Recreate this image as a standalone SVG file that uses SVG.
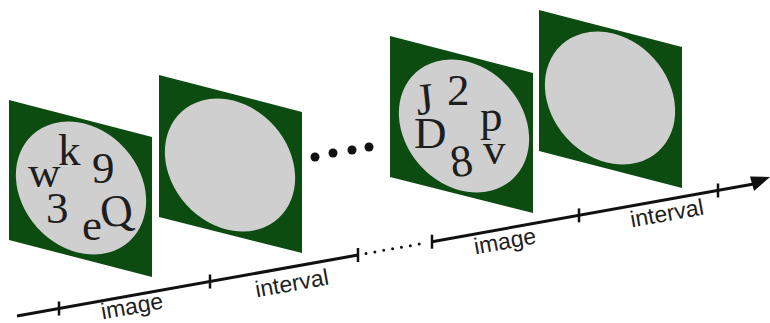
<svg xmlns="http://www.w3.org/2000/svg" width="770" height="323" viewBox="0 0 770 323">
  <style>
    .panel { fill: #0c4c11; }
    .disc { fill: #cfcfcf; }
    .glyph { font-family: "Liberation Serif", "Times New Roman", serif; font-size: 45px; fill: #1e1e1e; }
    .lbl { font-family: "Liberation Sans", Arial, sans-serif; font-size: 23px; fill: #1e1e1e; text-anchor: middle; }
    .axis { stroke: #111; stroke-width: 3; fill: none; }
    .tick { stroke: #111; stroke-width: 2.5; }
    .dotline { stroke: #111; stroke-width: 3; stroke-linecap: round; stroke-dasharray: 0 9; fill: none; }
    .dot { fill: #111; }
  </style>
  <rect width="770" height="323" fill="#ffffff"/>

  <g id="frame1">
    <polygon class="panel" points="9,100 152,137 152,277 9,240"/>
    <ellipse class="disc" cx="81" cy="188" rx="72" ry="59" transform="rotate(48 81 188)"/>
    <text class="glyph" x="28" y="187">w</text>
    <text class="glyph" x="58" y="165">k</text>
    <text class="glyph" x="92" y="183">9</text>
    <text class="glyph" x="46" y="223">3</text>
    <text class="glyph" x="82" y="240">e</text>
    <text class="glyph" x="100" y="226" transform="rotate(-10 116 210)">Q</text>
  </g>

  <g id="frame2">
    <polygon class="panel" points="159,75 302,112 302,253 159,217"/>
    <ellipse class="disc" cx="230" cy="165" rx="72" ry="59" transform="rotate(48 230 165)"/>
  </g>

  <g id="ellipsis">
    <circle class="dot" cx="315" cy="157" r="4.5"/>
    <circle class="dot" cx="333" cy="153" r="4.5"/>
    <circle class="dot" cx="352" cy="150" r="4.5"/>
    <circle class="dot" cx="369" cy="147" r="4.5"/>
  </g>

  <g id="frame3">
    <polygon class="panel" points="390,36 533,73 533,213 390,177"/>
    <ellipse class="disc" cx="464" cy="126" rx="72" ry="59" transform="rotate(48 464 126)"/>
    <text class="glyph" x="416" y="114" transform="rotate(-6 427 100)">J</text>
    <text class="glyph" x="447" y="105">2</text>
    <text class="glyph" x="480" y="131">p</text>
    <text class="glyph" x="414" y="148">D</text>
    <text class="glyph" x="450" y="176" transform="rotate(-8 462 160)">8</text>
    <text class="glyph" x="483" y="164">v</text>
  </g>

  <g id="frame4">
    <polygon class="panel" points="539,10 682,47 682,188 539,151"/>
    <ellipse class="disc" cx="610" cy="98" rx="72" ry="59" transform="rotate(48 610 98)"/>
  </g>

  <g id="connectors">
    <line class="axis" x1="17" y1="316" x2="358" y2="255"/>
    <line class="dotline" x1="366" y1="253.5" x2="428" y2="242.5"/>
    <line class="axis" x1="432" y1="241.7" x2="755" y2="183.8"/>
    <polygon fill="#111" points="770,177 750,176.5 754,191"/>
    <line class="tick" x1="59" y1="301.5" x2="59" y2="315.5"/>
    <line class="tick" x1="210" y1="274.5" x2="210" y2="288.5"/>
    <line class="tick" x1="358" y1="248" x2="358" y2="262"/>
    <line class="tick" x1="432" y1="234.7" x2="432" y2="248.7"/>
    <line class="tick" x1="579" y1="208.4" x2="579" y2="222.4"/>
    <line class="tick" x1="718" y1="183.5" x2="718" y2="197.5"/>
  </g>

  <g id="labels">
    <text class="lbl" x="132" y="314" transform="rotate(-10.2 132 307)">image</text>
    <text class="lbl" x="292" y="291" transform="rotate(-10.2 292 284)">interval</text>
    <text class="lbl" x="505" y="249" transform="rotate(-10.2 505 242)">image</text>
    <text class="lbl" x="667" y="221" transform="rotate(-10.2 667 214)">interval</text>
  </g>
</svg>
